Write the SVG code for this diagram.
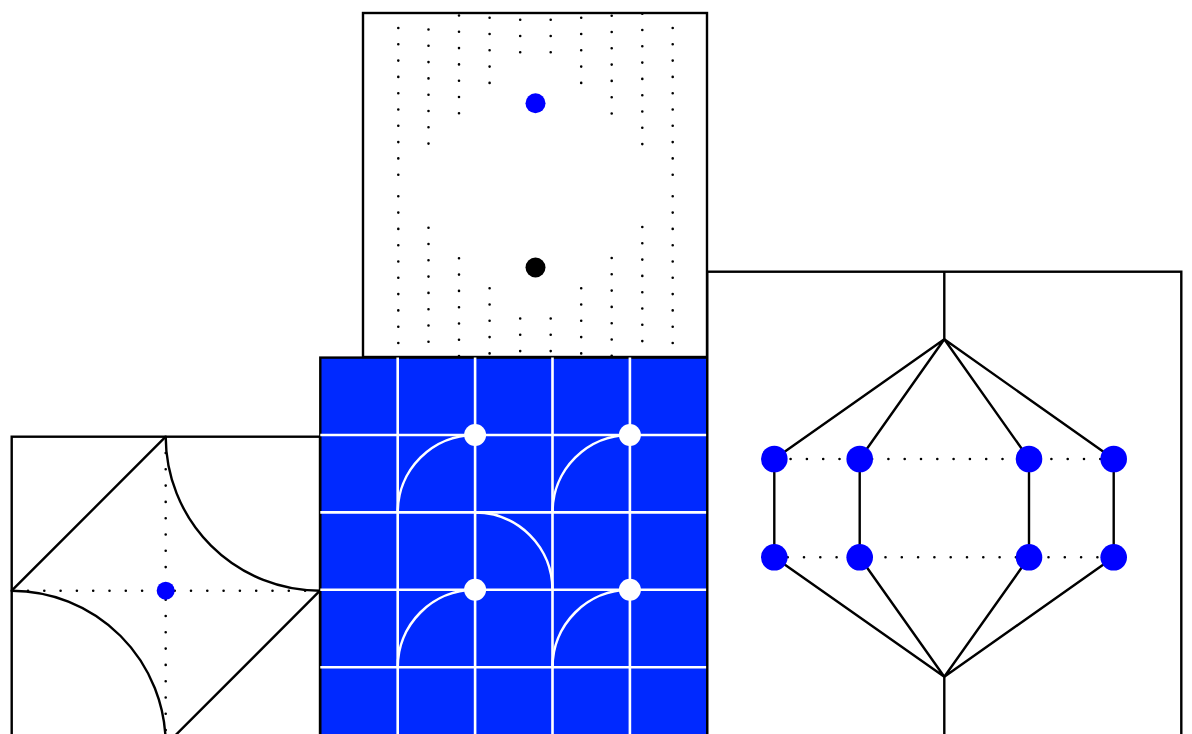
<svg xmlns="http://www.w3.org/2000/svg" width="1192" height="734" viewBox="0 0 1192 734">
<style>
.frame{fill:#ffffff;stroke:#000;stroke-width:2.4}
.ln{fill:none;stroke:#000;stroke-width:2.4}
.dot{fill:none;stroke:#000;stroke-width:2.6;stroke-linecap:round;stroke-dasharray:0 16.3}
.wl{fill:none;stroke:#fff;stroke-width:2.6}
.node{fill:#0000ff}
</style>
<rect width="1192" height="734" fill="#fff"/>
<g id="top-panel">
<rect class="frame" x="363" y="13" width="344" height="344"/>
<g class="dots">
<line class="dot" x1="398.3" y1="28" x2="398.3" y2="175"/>
<line class="dot" x1="398.3" y1="196.3" x2="398.3" y2="343.5"/>
<line class="dot" x1="428.5" y1="29.5" x2="428.5" y2="144"/>
<line class="dot" x1="428.5" y1="227.7" x2="428.5" y2="342.2"/>
<line class="dot" x1="459" y1="15.5" x2="459" y2="113.6"/>
<line class="dot" x1="459" y1="258.3" x2="459" y2="356.4"/>
<line class="dot" x1="489.6" y1="17.7" x2="489.6" y2="83.2"/>
<line class="dot" x1="489.6" y1="288.2" x2="489.6" y2="353.7"/>
<line class="dot" x1="520.2" y1="19.7" x2="520.2" y2="52.6"/>
<line class="dot" x1="520.2" y1="318.5" x2="520.2" y2="351.4"/>
<line class="dot" x1="550.7" y1="19.7" x2="550.7" y2="52.6"/>
<line class="dot" x1="550.7" y1="318.5" x2="550.7" y2="351.4"/>
<line class="dot" x1="581.2" y1="17.7" x2="581.2" y2="83.2"/>
<line class="dot" x1="581.2" y1="288.2" x2="581.2" y2="353.7"/>
<line class="dot" x1="611.7" y1="15.7" x2="611.7" y2="113.8"/>
<line class="dot" x1="611.7" y1="258" x2="611.7" y2="356.1"/>
<line class="dot" x1="642.3" y1="13.7" x2="642.3" y2="144.4"/>
<line class="dot" x1="642.3" y1="227" x2="642.3" y2="341.5"/>
<line class="dot" x1="672.7" y1="28" x2="672.7" y2="175"/>
<line class="dot" x1="672.7" y1="196.3" x2="672.7" y2="343.5"/>
</g>
<circle class="node" cx="535.5" cy="103.3" r="10"/>
<circle cx="535.5" cy="267.5" r="10" fill="#000"/>
</g>
<g id="left-panel">
<rect class="frame" x="11.7" y="436.7" width="308.3" height="308.3"/>
<line class="dot" x1="11.7" y1="590.7" x2="320" y2="590.7"/>
<line class="dot" x1="165.7" y1="436.7" x2="165.7" y2="745"/>
<path class="ln" d="M165.7 436.7 L11.7 590.7 M320 590.7 L165.7 745"/>
<path class="ln" d="M165.7 436.7 A154.3 154.3 0 0 0 320 590.7"/>
<path class="ln" d="M11.7 590.7 A154.3 154.3 0 0 1 165.7 745"/>
<circle class="node" cx="165.7" cy="590.7" r="9"/>
</g>
<g id="blue-panel">
<rect x="320.3" y="357.6" width="387" height="387" fill="#0029ff" stroke="#000" stroke-width="2.4"/>
<path class="wl" d="M397.7 357.6 V745 M475.1 357.6 V745 M552.5 357.6 V745 M629.9 357.6 V745 M320.3 435 H707.3 M320.3 512.4 H707.3 M320.3 589.8 H707.3 M320.3 667.2 H707.3"/>
<path class="wl" d="M397.7 512.4 A77.4 77.4 0 0 1 475.1 435"/>
<path class="wl" d="M552.5 512.4 A77.4 77.4 0 0 1 629.9 435"/>
<path class="wl" d="M397.7 667.2 A77.4 77.4 0 0 1 475.1 589.8"/>
<path class="wl" d="M552.5 667.2 A77.4 77.4 0 0 1 629.9 589.8"/>
<path class="wl" d="M475.1 512.4 A77.4 77.4 0 0 1 552.5 589.8"/>
<circle cx="475.1" cy="435" r="11" fill="#fff"/>
<circle cx="629.9" cy="435" r="11" fill="#fff"/>
<circle cx="475.1" cy="589.8" r="11" fill="#fff"/>
<circle cx="629.9" cy="589.8" r="11" fill="#fff"/>
</g>
<g id="right-panel">
<rect class="frame" x="707.3" y="271.7" width="474" height="474"/>
</g>
<g id="connectors">
<path class="ln" d="M944.3 271.7 V339.3 M944.3 676.7 V745"/>
<path class="ln" d="M944.3 339.3 L774.3 459 M944.3 339.3 L859.7 459 M944.3 339.3 L1029 459 M944.3 339.3 L1113.7 459"/>
<path class="ln" d="M944.3 676.7 L774.3 557.3 M944.3 676.7 L859.7 557.3 M944.3 676.7 L1029 557.3 M944.3 676.7 L1113.7 557.3"/>
<path class="ln" d="M774.3 459 V557.3 M859.7 459 V557.3 M1029 459 V557.3 M1113.7 459 V557.3"/>
<line class="dot" x1="774.3" y1="459" x2="1113.7" y2="459"/>
<line class="dot" x1="1113.7" y1="557.3" x2="774.3" y2="557.3"/>
</g>
<g id="n1"><circle class="node" cx="774.3" cy="459" r="13.3"/></g>
<g id="n2"><circle class="node" cx="859.7" cy="459" r="13.3"/></g>
<g id="n3"><circle class="node" cx="1029" cy="459" r="13.3"/></g>
<g id="n4"><circle class="node" cx="1113.7" cy="459" r="13.3"/></g>
<g id="n5"><circle class="node" cx="774.3" cy="557.3" r="13.3"/></g>
<g id="n6"><circle class="node" cx="859.7" cy="557.3" r="13.3"/></g>
<g id="n7"><circle class="node" cx="1029" cy="557.3" r="13.3"/></g>
<g id="n8"><circle class="node" cx="1113.7" cy="557.3" r="13.3"/></g>
</svg>
